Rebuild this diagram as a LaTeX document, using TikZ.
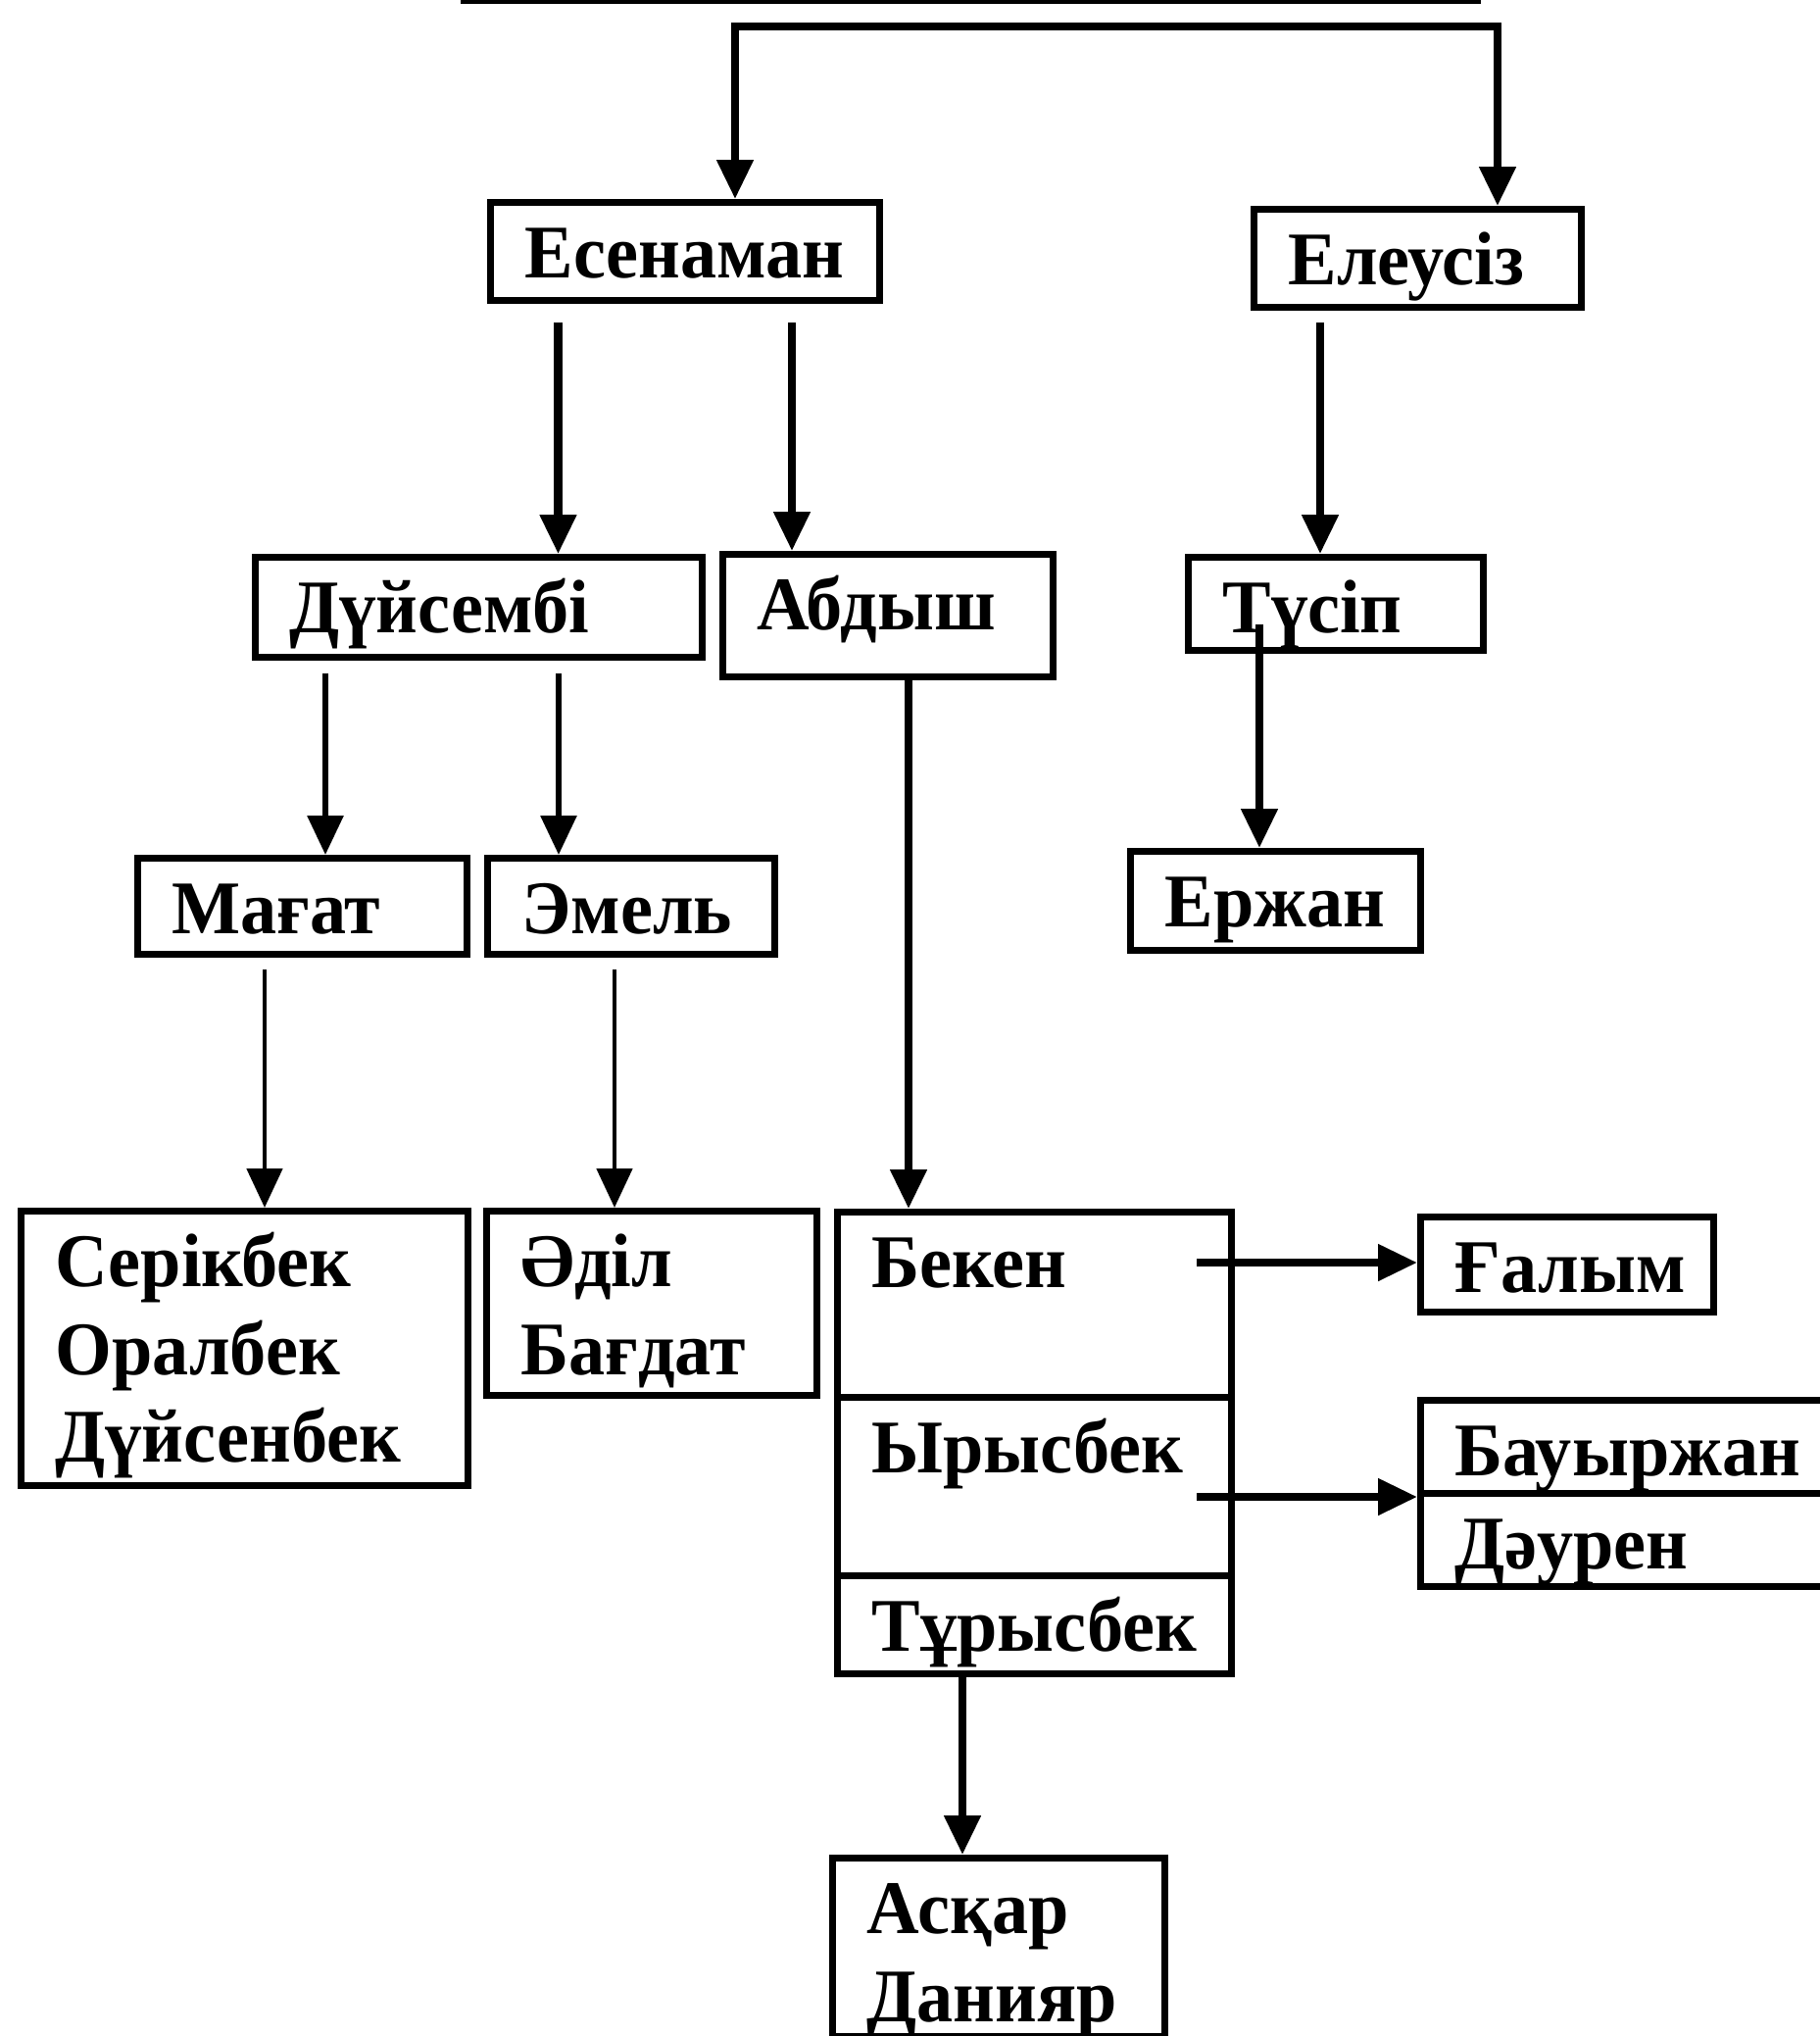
\documentclass[tikz,border=0pt]{standalone}
\usepackage{fontspec}
\setmainfont{Liberation Serif}[FakeStretch=0.96]
\usetikzlibrary{arrows.meta}

\begin{document}
\begin{tikzpicture}[
  every node/.style={font=\fontsize{22}{25.5}\selectfont\bfseries},
  namebox/.style={draw,line width=2pt,anchor=north west,align=left,inner xsep=0.35cm,inner ysep=0pt,text height=0.77cm},
  arr/.style={line width=2.3pt,-{Triangle[length=0.40cm,width=0.36cm]}},
  thinarr/.style={line width=1.4pt,-{Triangle[length=0.40cm,width=0.36cm]}}]
\useasboundingbox (0,0) rectangle (18.57,-20.77);
\clip (0,0) rectangle (18.57,-20.77);
% bottom edge of the box cut off at the top
\draw[line width=2pt] (4.70,0) -- (15.11,0);
% first row
\node[namebox,text width=3.27cm,text depth=0.23cm] (esen) at (4.97,-2.03) {Есенаман};
\node[namebox,text width=2.64cm,text depth=0.23cm] (eleu) at (12.76,-2.10) {Елеусіз};
\coordinate (jl) at (7.50,-0.27);
\coordinate (jr) at (15.28,-0.27);
\draw[line width=2.3pt,{Triangle[length=0.40cm,width=0.36cm]}-{Triangle[length=0.40cm,width=0.36cm]}] (jl |- esen.north) -- (jl) -- (jr) -- (jr |- eleu.north);
% second row
\node[namebox,text width=3.86cm,text depth=0.25cm] (dui) at (2.57,-5.65) {Дүйсембі};
\node[namebox,text width=2.67cm,text depth=0.48cm] (abd) at (7.34,-5.62) {Абдыш};
\node[namebox,text width=2.31cm,text depth=0.18cm] (tus) at (12.09,-5.65) {Түсіп};
\coordinate (e1) at ([xshift=0.725cm,yshift=-0.19cm]esen.south west);
\coordinate (e2) at ([xshift=3.11cm,yshift=-0.19cm]esen.south west);
\coordinate (l1) at ([xshift=0.71cm,yshift=-0.12cm]eleu.south west);
\draw[arr] (e1) -- (e1 |- dui.north);
\draw[arr] (e2) -- (e2 |- abd.north);
\draw[arr] (l1) -- (l1 |- tus.north);
% third row
\node[namebox,text width=2.66cm,text depth=0.21cm] (mag) at (1.37,-8.72) {Мағат};
\node[namebox,text width=2.23cm,text depth=0.21cm] (emel) at (4.94,-8.72) {Эмель};
\node[namebox,text width=2.26cm,text depth=0.24cm] (erzh) at (11.50,-8.65) {Ержан};
\coordinate (d1) at ([xshift=0.75cm,yshift=-0.13cm]dui.south west);
\coordinate (d2) at ([xshift=3.13cm,yshift=-0.13cm]dui.south west);
\coordinate (t1) at ([xshift=0.76cm,yshift=0.30cm]tus.south west);
\draw[thinarr,line width=1.7pt] (d1) -- (d1 |- mag.north);
\draw[thinarr,line width=1.7pt] (d2) -- (d2 |- emel.north);
\draw[arr] (t1) -- (t1 |- erzh.north);
% fourth row
\node[namebox,text width=3.86cm,text depth=2.03cm] (serik) at (0.18,-12.32) {Серікбек\\Оралбек\\Дүйсенбек};
\node[namebox,text width=2.67cm,text depth=1.11cm] (adil) at (4.93,-12.32) {Әділ\\Бағдат};
\node[namebox,text width=3.32cm,text depth=1.12cm] (beken) at (8.51,-12.33) {Бекен};
\node[namebox,text width=3.32cm,text depth=1.05cm] (yrys) at (8.51,-14.22) {Ырысбек};
\node[namebox,text width=3.32cm,text depth=0.23cm] (turys) at (8.51,-16.04) {Тұрысбек};
\coordinate (m1) at ([xshift=1.33cm,yshift=-0.12cm]mag.south west);
\coordinate (m2) at ([xshift=1.33cm,yshift=-0.12cm]emel.south west);
\coordinate (a1) at ([xshift=1.93cm]abd.south west);
\draw[thinarr] (m1) -- (m1 |- serik.north);
\draw[thinarr] (m2) -- (m2 |- adil.north);
\draw[arr] (a1) -- (a1 |- beken.north);
% grandchildren on the right
\node[namebox,text width=2.29cm,text depth=0.20cm] (galym) at (14.46,-12.38) {Ғалым};
\node[namebox,text width=3.80cm,text depth=0.18cm] (bauyr) at (14.46,-14.25) {Бауыржан};
\node[namebox,text width=3.80cm,text depth=0.18cm] (dauren) at (14.46,-15.20) {Дәурен};
\coordinate (b1) at ([xshift=3.70cm,yshift=-0.55cm]beken.north west);
\coordinate (b2) at ([xshift=3.70cm,yshift=-1.05cm]yrys.north west);
\draw[arr] (b1) -- (b1 -| galym.west);
\draw[arr] (b2) -- (b2 -| bauyr.west);
% last row
\node[namebox,text width=2.69cm,text depth=1.05cm] (askar) at (8.46,-18.92) {Асқар\\Данияр};
\coordinate (r1) at ([xshift=1.31cm]turys.south west);
\draw[arr] (r1) -- (r1 |- askar.north);
\end{tikzpicture}
\end{document}
